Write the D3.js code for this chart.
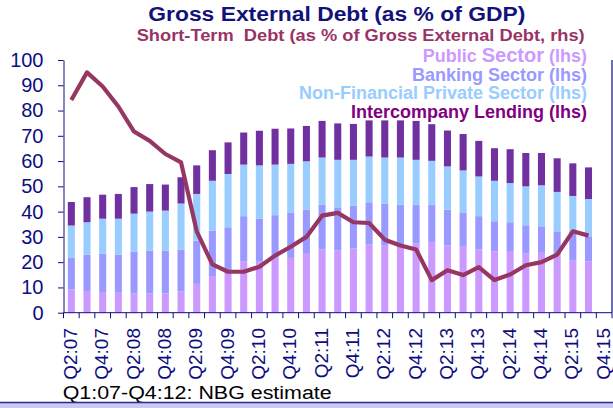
<!DOCTYPE html>
<html>
<head>
<meta charset="utf-8">
<script src="https://cdn.jsdelivr.net/npm/d3@7/dist/d3.min.js"></script>
<style>
  html, body { margin: 0; padding: 0; background: #fff; }
  svg { display: block; font-family: "Liberation Sans", Arial, sans-serif; }
</style>
</head>
<body>
<svg id="chart" width="613" height="408"></svg>
<script>
// Quarters on the category axis (Q2:07 ... Q4:15)
const quarters = [
  "Q2:07","Q3:07","Q4:07","Q1:08","Q2:08","Q3:08","Q4:08","Q1:09",
  "Q2:09","Q3:09","Q4:09","Q1:10","Q2:10","Q3:10","Q4:10","Q1:11",
  "Q2:11","Q3:11","Q4:11","Q1:12","Q2:12","Q3:12","Q4:12","Q1:13",
  "Q2:13","Q3:13","Q4:13","Q1:14","Q2:14","Q3:14","Q4:14","Q1:15",
  "Q2:15","Q3:15","Q4:15"
];
// Quarters that carry a tick label
const tickLabels = quarters.filter((q, i) => i % 2 === 0);

// Gross external debt by sector, % of GDP (lhs), Q2:07 - Q3:15
const publicSector = [9.2,8.6,8.2,7.9,7.6,7.6,7.6,8.4,11.4,14.5,16.5,20.4,20.4,21.7,21.7,23.3,
  25.0,24.6,25.4,27.0,26.7,25.7,27.4,28.0,26.6,26.1,25.0,24.3,24.1,23.4,23.7,22.5,20.6,20.3];
const bankingSector = [12.5,14.4,15.2,15.1,16.6,17.0,17.0,16.6,17.1,18.0,17.3,17.8,16.8,16.9,18.0,17.5,
  17.8,17.1,17.0,16.7,16.5,17.1,15.4,14.8,14.2,13.6,13.2,11.9,11.7,11.2,10.5,9.7,11.4,9.9];
const nonFinancialPrivate = [12.8,12.8,13.8,14.2,15.0,15.4,15.8,18.2,18.5,19.7,21.1,20.4,21.1,20.0,19.2,19.1,
  18.6,18.8,18.1,18.1,18.2,18.6,17.7,17.3,17.1,16.6,15.7,16.0,15.5,15.4,16.2,15.6,14.2,14.8];
const intercompanyLending = [9.3,9.9,9.5,9.8,10.5,10.9,10.3,10.4,11.3,12.1,12.5,12.7,13.7,14.2,14.0,14.0,
  14.5,14.4,14.2,14.3,14.7,14.7,15.4,14.5,14.2,14.4,14.1,12.9,13.4,13.2,12.8,13.3,12.9,12.5];

// Short-term debt, % of gross external debt (rhs)
const shortTermDebt = [84.2,95.1,89.5,81.6,71.7,68.0,62.8,59.5,32.2,19.1,16.2,16.2,18.2,22.6,26.1,30.0,
  38.4,39.5,35.8,35.5,28.9,26.6,25.0,12.9,16.8,14.9,18.0,12.9,15.1,18.8,20.0,23.0,32.2,30.5];

const yTicks = [0,10,20,30,40,50,60,70,80,90,100];

const seriesKeys = ["publicSector","bankingSector","nonFinancialPrivate","intercompanyLending"];
const seriesColors = {
  publicSector: "#cc99ff",
  bankingSector: "#9999ff",
  nonFinancialPrivate: "#99ccff",
  intercompanyLending: "#7030a0"
};

const rows = publicSector.map((v, i) => ({
  quarter: quarters[i],
  publicSector: v,
  bankingSector: bankingSector[i],
  nonFinancialPrivate: nonFinancialPrivate[i],
  intercompanyLending: intercompanyLending[i]
}));

const navy = "#0d0d80";
const svg = d3.select("#chart");

const plot = { left: 63.5, right: 612, top: 60, bottom: 312.7 };

const x = d3.scaleBand().domain(quarters).range([plot.left, plot.right]).paddingInner(0).paddingOuter(0);
const y = d3.scaleLinear().domain([0, 100]).range([plot.bottom, plot.top]);
const yRight = d3.scaleLinear().domain([0, 100]).range([plot.bottom, plot.top]);

const barW = x.bandwidth() * 0.45;
const cx = q => x(q) + x.bandwidth() / 2;

// Stacked bars
const stacked = d3.stack().keys(seriesKeys)(rows);
svg.append("g").selectAll("g")
  .data(stacked)
  .join("g")
  .attr("fill", s => seriesColors[s.key])
  .selectAll("rect")
  .data(s => s)
  .join("rect")
  .attr("x", d => cx(d.data.quarter) - barW / 2)
  .attr("width", barW)
  .attr("y", d => y(d[1]))
  .attr("height", d => y(d[0]) - y(d[1]));

// Left axis
const yAxis = d3.axisLeft(y).tickValues(yTicks).tickSize(5.5).tickPadding(14.5).tickSizeOuter(0);
const gy = svg.append("g").attr("transform", `translate(${plot.left},0)`).call(yAxis);
gy.select(".domain").attr("stroke", navy);
gy.selectAll(".tick line").attr("stroke", navy);
gy.selectAll(".tick text")
  .attr("fill", navy)
  .style("font-size", "20px")
  .style("font-family", "'Liberation Sans', Arial, sans-serif");

// Right axis line (rhs scale)
svg.append("line")
  .attr("x1", plot.right).attr("x2", plot.right)
  .attr("y1", yRight(100)).attr("y2", yRight(0))
  .attr("stroke", navy).attr("stroke-width", 1.2);

// Bottom axis: baseline, category boundary ticks and rotated labels
svg.append("line")
  .attr("x1", plot.left).attr("x2", plot.right)
  .attr("y1", y(0)).attr("y2", y(0))
  .attr("stroke", navy).attr("stroke-width", 1);

const boundaries = quarters.map(q => x(q)).concat([x.range()[1]]);
svg.append("g").selectAll("line")
  .data(boundaries)
  .join("line")
  .attr("x1", d => d).attr("x2", d => d)
  .attr("y1", y(0)).attr("y2", y(0) + 5.5)
  .attr("stroke", navy).attr("stroke-width", 1);

svg.append("g").selectAll("text")
  .data(tickLabels)
  .join("text")
  .attr("transform", q => `translate(${cx(q) + 5.5},328) rotate(-90)`)
  .attr("text-anchor", "end")
  .attr("fill", navy)
  .style("font-size", "19px")
  .text(q => q);

// Short-term debt line
const line = d3.line()
  .x((d, i) => cx(quarters[i]))
  .y(d => yRight(d));
svg.append("path")
  .datum(shortTermDebt)
  .attr("d", line)
  .attr("fill", "none")
  .attr("stroke", "#963663")
  .attr("stroke-width", 4.2)
  .attr("stroke-linejoin", "round")
  .attr("stroke-linecap", "butt");

// Titles
svg.append("text")
  .attr("x", 148.3).attr("y", 20.5)
  .attr("textLength", 377).attr("lengthAdjust", "spacingAndGlyphs")
  .attr("fill", "#12127a")
  .style("font-size", "20px").style("font-weight", "bold")
  .text("Gross External Debt (as % of GDP)");

svg.append("text")
  .attr("x", 136.7).attr("y", 40.5)
  .attr("textLength", 448).attr("lengthAdjust", "spacingAndGlyphs")
  .attr("fill", "#993366")
  .style("font-size", "16px").style("font-weight", "bold")
  .style("white-space", "pre")
  .text("Short-Term  Debt (as % of Gross External Debt, rhs)");

// Legend (right aligned)
const legendX = 587;
const pub = svg.append("text")
  .attr("x", legendX).attr("y", 61.5)
  .attr("text-anchor", "end")
  .attr("fill", "#cc99ff")
  .style("font-size", "18px").style("font-weight", "bold");
pub.append("tspan").text("Public ");
pub.append("tspan").style("font-size", "20px").text("Sector");
pub.append("tspan").text(" (lhs)");

const legendRows = [
  { label: "Banking Sector (lhs)", color: "#9999ff", yPos: 80.7 },
  { label: "Non-Financial Private Sector (lhs)", color: "#99ccff", yPos: 99.2 },
  { label: "Intercompany Lending (lhs)", color: "#800080", yPos: 118.3 }
];
svg.append("g").selectAll("text")
  .data(legendRows)
  .join("text")
  .attr("x", legendX).attr("y", d => d.yPos)
  .attr("text-anchor", "end")
  .attr("fill", d => d.color)
  .style("font-size", "18px").style("font-weight", "bold")
  .text(d => d.label);

// Footnote
svg.append("text")
  .attr("x", 62.7).attr("y", 399.3)
  .attr("textLength", 269).attr("lengthAdjust", "spacingAndGlyphs")
  .attr("fill", "#000")
  .style("font-size", "18px")
  .text("Q1:07-Q4:12: NBG estimate");

// Bottom band
svg.append("rect")
  .attr("x", 0).attr("y", 403).attr("width", 613).attr("height", 5)
  .attr("fill", "#c9c9f3");
svg.append("line")
  .attr("x1", 0).attr("x2", 613).attr("y1", 402.5).attr("y2", 402.5)
  .attr("stroke", "#2b2b8f").attr("stroke-width", 1.6);
</script>
</body>
</html>
